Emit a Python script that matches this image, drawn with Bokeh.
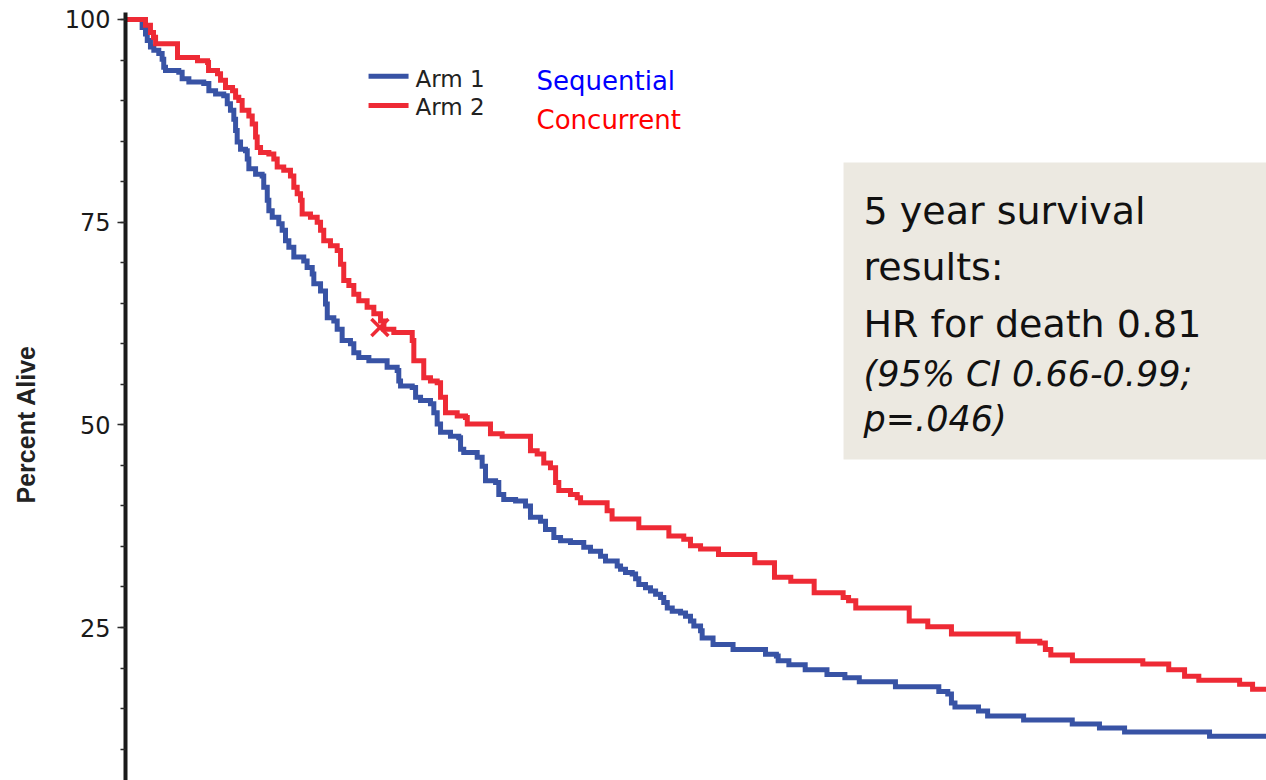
from bokeh.plotting import figure
from bokeh.models import Range1d, SingleIntervalTicker, Label, BoxAnnotation
from bokeh.embed import file_html
from bokeh.resources import INLINE

# Kaplan-Meier estimates (months from randomisation, percent alive)
arm1_months = [0, 1.04, 1.25, 1.36, 1.56, 1.77, 2.08, 2.29, 2.39, 2.5,
               3.33, 3.54, 3.96, 4.89, 5.21, 5.63, 6.14, 6.36, 6.56, 6.77,
               6.88, 6.98, 7.19, 7.5, 7.61, 7.71, 8.13, 8.54, 8.64, 8.86,
               8.96, 9.17, 9.58, 9.79, 10.0, 10.21, 10.52, 11.14, 11.35, 11.67,
               11.77, 12.19, 12.5, 12.61, 13.02, 13.23, 13.54, 14.06, 14.27, 14.58,
               15.21, 16.35, 16.98, 17.08, 17.19, 17.92, 18.13, 18.44, 19.06, 19.27,
               19.48, 19.69, 20.31, 20.83, 20.94, 21.14, 21.98, 22.29, 22.5, 23.13,
               23.33, 23.64, 24.38, 25.0, 25.31, 25.94, 26.25, 26.77, 27.19, 27.81,
               28.64, 29.06, 29.69, 30.0, 30.73, 30.94, 31.25, 31.67, 31.88, 32.08,
               32.5, 32.81, 33.13, 33.44, 33.64, 33.86, 34.17, 34.69, 35.0, 35.31,
               35.52, 35.94, 36.04, 36.72, 37.97, 40.0, 40.68, 40.79, 41.46, 42.48,
               43.84, 44.96, 45.86, 48.12, 50.83, 51.39, 51.62, 51.84, 53.31, 53.88,
               56.13, 59.17, 60.87, 62.44, 67.75, 71.3]
arm1_pct = [100, 99.0, 98.2, 97.4, 96.6, 96.2, 95.8, 95.1, 94.1, 93.7,
            93.5, 92.7, 92.3, 92.1, 91.2, 90.8, 90.6, 89.6, 88.8, 87.7,
            86.3, 84.9, 84.0, 83.8, 82.8, 81.6, 80.9, 80.7, 79.3, 77.7,
            76.4, 75.6, 74.8, 74.0, 72.7, 71.9, 70.7, 70.2, 69.4, 68.6,
            67.4, 66.5, 64.9, 63.2, 62.8, 61.8, 60.4, 60.0, 58.9, 58.3,
            57.9, 57.1, 56.7, 55.4, 54.8, 54.6, 53.4, 53.0, 52.6, 51.5,
            50.1, 49.1, 48.6, 48.4, 47.0, 46.6, 46.0, 44.9, 43.1, 42.9,
            41.4, 40.8, 40.6, 40.0, 38.6, 38.1, 37.1, 36.1, 35.7, 35.5,
            34.9, 34.4, 33.8, 33.2, 32.6, 32.2, 31.8, 31.6, 31.0, 30.3,
            29.9, 29.5, 29.1, 28.7, 28.1, 27.4, 27.0, 26.8, 26.4, 25.8,
            25.2, 24.6, 23.7, 22.9, 22.3, 21.7, 21.5, 20.9, 20.4, 19.8,
            19.2, 18.8, 18.3, 17.7, 17.1, 16.8, 15.7, 15.2, 14.7, 14.1,
            13.6, 13.1, 12.6, 12.1, 11.6, 11.6]

arm2_months = [0, 1.25, 1.56, 1.75, 1.88, 3.25, 4.5, 5.13, 5.19, 5.75,
               5.94, 6.25, 6.69, 6.88, 7.08, 7.29, 7.71, 7.92, 8.13, 8.23,
               8.44, 8.96, 9.27, 9.48, 9.89, 10.31, 10.52, 10.73, 10.94, 11.04,
               11.56, 11.98, 12.19, 12.39, 12.81, 13.23, 13.44, 13.64, 13.96, 14.27,
               14.58, 15.1, 15.52, 15.94, 16.15, 16.77, 17.92, 18.02, 18.64, 19.06,
               19.48, 19.69, 20.0, 20.73, 21.25, 21.36, 22.81, 23.54, 25.31, 25.73,
               26.14, 26.56, 26.88, 27.08, 27.81, 28.23, 28.44, 30.1, 30.41, 32.08,
               33.96, 34.89, 35.31, 35.94, 37.06, 39.33, 40.56, 41.58, 43.04, 44.85,
               45.19, 45.64, 48.98, 50.14, 51.62, 55.79, 57.14, 57.49, 57.83, 59.18,
               63.58, 65.2, 66.19, 67.08, 69.63, 70.44, 71.3]
arm2_pct = [100, 99.3, 98.4, 97.8, 97.0, 95.3, 94.9, 94.7, 93.7, 93.3,
            92.5, 91.6, 91.2, 90.4, 90.0, 88.8, 88.1, 87.1, 85.5, 84.2,
            83.6, 83.4, 82.8, 81.8, 81.4, 80.7, 79.3, 78.5, 77.7, 76.0,
            75.6, 75.0, 74.0, 72.7, 72.1, 71.5, 69.8, 67.8, 67.2, 66.1,
            65.3, 64.5, 63.7, 62.8, 61.8, 61.4, 60.4, 57.9, 55.8, 55.4,
            55.2, 53.4, 51.5, 51.1, 50.9, 50.1, 48.9, 48.6, 46.8, 46.4,
            45.3, 44.7, 42.9, 41.9, 41.4, 41.0, 40.4, 39.4, 38.4, 37.3,
            36.3, 35.9, 35.1, 34.7, 34.0, 33.0, 31.2, 30.7, 29.3, 28.7,
            28.3, 27.4, 25.8, 25.1, 24.2, 23.3, 23.1, 22.3, 21.6, 20.9,
            20.5, 19.8, 19.0, 18.5, 18.0, 17.4, 17.4]

# censored observation marked on the concurrent arm
censor_months = [15.9]
censor_pct = [62.0]

y_ticks_interval = 25
arm_names = ["Arm 1", "Arm 2"]
arm_labels = ["Sequential", "Concurrent"]
summary_lines = ["5 year survival", "results:", "HR for death 0.81"]
summary_italic = ["(95% CI 0.66-0.99;", "p=.046)"]

BLUE = "#3853a5"
RED = "#ee2a35"

p = figure(width=1266, height=780, output_backend="svg", toolbar_location=None,
           x_range=Range1d(0, 71.31), y_range=Range1d(6.13, 100.86),
           min_border_left=125, min_border_right=0, min_border_top=12,
           min_border_bottom=0)
p.outline_line_color = None
p.grid.visible = False
p.xaxis.visible = False
p.background_fill_color = "white"
p.border_fill_color = "white"

ax = p.yaxis[0]
ax.ticker = SingleIntervalTicker(interval=y_ticks_interval, num_minor_ticks=5)
ax.axis_line_width = 4
ax.axis_line_color = "#1a1a1a"
ax.major_tick_out = 8
ax.major_tick_in = 0
ax.minor_tick_out = 5
ax.minor_tick_in = 0
ax.major_tick_line_width = 1.5
ax.minor_tick_line_width = 1.5
ax.major_tick_line_color = "#2a2a2a"
ax.minor_tick_line_color = "#2a2a2a"
ax.major_label_text_font = "DejaVu Sans"
ax.major_label_text_font_size = "24px"
ax.major_label_text_color = "#1a1a1a"
ax.major_label_standoff = 7
# trailing no-break spaces push the centred title down the axis a little
ax.axis_label = "Percent Alive" + "\u00a0" * 8
ax.axis_label_text_font = "Liberation Sans"
ax.axis_label_text_font_style = "bold"
ax.axis_label_text_font_size = "25px"
ax.axis_label_text_color = "#222222"
ax.axis_label_standoff = 22

# summary box
p.add_layout(BoxAnnotation(left=44.875, right=71.31, top=82.36, bottom=45.73,
                           fill_color="#ece9e1", fill_alpha=1.0,
                           line_color=None, level="underlay"))

p.step(arm1_months, arm1_pct, mode="after", line_width=5, line_color=BLUE,
       line_join="miter")
p.step(arm2_months, arm2_pct, mode="after", line_width=5, line_color=RED,
       line_join="miter")
p.scatter(censor_months, censor_pct, marker="x", size=24, line_width=3.5,
          line_color=RED)

# legend
p.line([15.19, 17.69], [93.0, 93.0], line_width=5, line_color=BLUE)
p.line([15.19, 17.69], [89.4, 89.4], line_width=5, line_color=RED)
for name, yb in zip(arm_names, [92.65, 89.24]):
    p.add_layout(Label(x=18.125, y=yb, text=name, text_font="DejaVu Sans",
                       text_font_size="23px", text_color="#222222",
                       text_baseline="alphabetic"))
for lab, yb, col in zip(arm_labels, [92.44, 87.59], ["#0000ff", "#ff0000"]):
    p.add_layout(Label(x=25.69, y=yb, text=lab, text_font="DejaVu Sans",
                       text_font_size="26px", text_color=col,
                       text_baseline="alphabetic"))

# summary text
for line, yb in zip(summary_lines, [76.41, 69.41, 62.47]):
    p.add_layout(Label(x=46.125, y=yb, text=line, text_font="DejaVu Sans",
                       text_font_size="38px", text_color="#111111",
                       text_baseline="alphabetic"))
for line, yb in zip(summary_italic, [56.30, 50.75]):
    p.add_layout(Label(x=46.125, y=yb, text=line, text_font="DejaVu Sans",
                       text_font_style="italic", text_font_size="35px",
                       text_color="#111111", text_baseline="alphabetic"))

open("out.html", "w").write(file_html(p, INLINE))
